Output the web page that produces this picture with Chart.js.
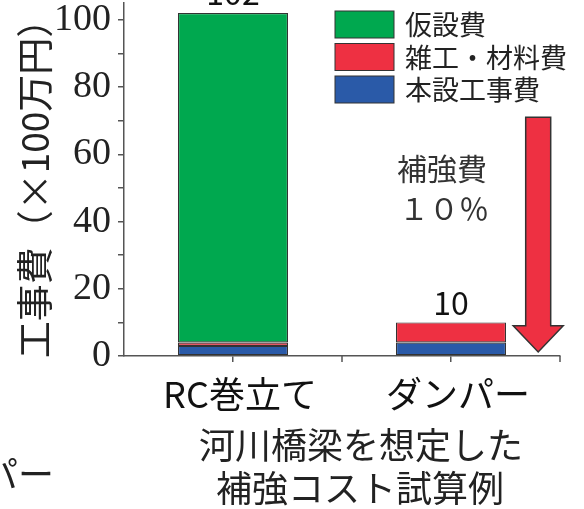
<!DOCTYPE html>
<html>
<head>
<meta charset="utf-8">
<script src="https://cdn.jsdelivr.net/npm/chart.js@4/dist/chart.umd.min.js"></script>
<style>
  body { margin: 0; background: #fff; }
  canvas { display: block; }
</style>
</head>
<body>
<canvas id="costChart" width="584" height="509"></canvas>
<script>
// Cost breakdown (unit: million yen x100)
const categories = ['RC巻立て', 'ダンパー'];
const honsetsu = [3, 4];     // 本設工事費
const zakko = [1, 6];        // 雑工・材料費
const kasetsu = [98, 0];     // 仮設費
const yTicks = [0, 20, 40, 60, 80, 100];

const jpFont = "'Noto Sans CJK JP', 'Noto Sans', sans-serif";

const colors = {
    green: '#00a84f',
    red: '#ee3042',
    blue: '#2a5aa8',
    edge: '#333333',
    axis: '#555555',
    text: '#222222'
};

// Extra drawing: half-category ticks, totals above bars, legend, arrow and notes
const decorations = {
    id: 'decorations',
    afterDatasetsDraw(chart) {
        const ctx = chart.ctx;
        const x = chart.scales.x;
        const y = chart.scales.y;
        const area = chart.chartArea;
        const half = (x.getPixelForValue(1) - x.getPixelForValue(0)) / 2;

        ctx.save();

        // ticks between / at the ends of categories
        ctx.strokeStyle = colors.axis;
        ctx.lineWidth = 1.5;
        categories.forEach((c, i) => {
            const px = x.getPixelForValue(i) + half;
            ctx.beginPath();
            ctx.moveTo(px, area.bottom);
            ctx.lineTo(px, area.bottom + 6);
            ctx.stroke();
        });

        // totals above each stack
        ctx.fillStyle = '#111';
        ctx.font = '32px ' + jpFont;
        ctx.textAlign = 'center';
        ctx.textBaseline = 'bottom';
        categories.forEach((c, i) => {
            const total = honsetsu[i] + zakko[i] + kasetsu[i];
            ctx.fillText(String(total), x.getPixelForValue(i), y.getPixelForValue(total) - 4);
        });

        // legend, top entry drawn first
        const items = chart.data.datasets.slice().reverse();
        ctx.font = '27px ' + jpFont;
        ctx.textAlign = 'left';
        ctx.textBaseline = 'middle';
        items.forEach((ds, k) => {
            const by = 11 + k * 32.5;
            ctx.fillStyle = ds.backgroundColor;
            ctx.fillRect(335, by, 59, 27);
            ctx.strokeStyle = colors.edge;
            ctx.lineWidth = 1;
            ctx.strokeRect(335, by, 59, 27);
            ctx.fillStyle = colors.text;
            ctx.fillText(ds.label, 405, by + 14);
        });

        // reduction arrow next to the damper bar
        const ax = x.getPixelForValue(1) + half * 0.8;
        const top = y.getPixelForValue(71);
        const neck = y.getPixelForValue(9);
        const tip = y.getPixelForValue(1.2);
        ctx.beginPath();
        ctx.moveTo(ax - 12.5, top);
        ctx.lineTo(ax + 12.5, top);
        ctx.lineTo(ax + 12.5, neck);
        ctx.lineTo(ax + 25, neck);
        ctx.lineTo(ax, tip);
        ctx.lineTo(ax - 25, neck);
        ctx.lineTo(ax - 12.5, neck);
        ctx.closePath();
        ctx.fillStyle = colors.red;
        ctx.fill();
        ctx.strokeStyle = colors.edge;
        ctx.lineWidth = 1.5;
        ctx.stroke();

        // note
        ctx.fillStyle = '#333';
        ctx.font = '30px ' + jpFont;
        ctx.textAlign = 'center';
        ctx.fillText('補強費', 442, 169);
        ctx.fillText('１０％', 444, 209);

        // caption under the axis
        ctx.fillStyle = colors.text;
        ctx.font = '36px ' + jpFont;
        ctx.fillText('河川橋梁を想定した', 361, 445);
        ctx.fillText('補強コスト試算例', 360, 488);

        // leftover label at the left edge
        ctx.textAlign = 'right';
        ctx.fillText('パー', 54, 474);

        ctx.restore();
    }
};

new Chart(document.getElementById('costChart'), {
    type: 'bar',
    data: {
        labels: categories,
        datasets: [
            { label: '本設工事費', data: honsetsu, backgroundColor: colors.blue },
            { label: '雑工・材料費', data: zakko, backgroundColor: colors.red },
            { label: '仮設費', data: kasetsu, backgroundColor: colors.green }
        ]
    },
    options: {
        responsive: false,
        animation: false,
        layout: {
            padding: { top: 3, right: 24, bottom: 0, left: 0 }
        },
        datasets: {
            bar: {
                barPercentage: 1,
                categoryPercentage: 0.505,
                borderColor: colors.edge,
                borderWidth: ctx => (ctx.raw ? 1.2 : 0),
                borderSkipped: false
            }
        },
        scales: {
            x: {
                stacked: true,
                grid: {
                    offset: false,
                    drawOnChartArea: false,
                    tickLength: 6,
                    color: colors.axis,
                    lineWidth: 1.5
                },
                border: { color: colors.axis, width: 1.5 },
                ticks: {
                    font: { family: jpFont, size: 36 },
                    color: '#111',
                    padding: 11,
                    labelOffset: 7,
                    maxRotation: 0
                },
                afterFit: s => {
                    s.height = 153;
                    s.paddingLeft = 0;
                    s.paddingRight = 0;
                }
            },
            y: {
                stacked: true,
                min: 0,
                max: 105,
                grid: {
                    drawOnChartArea: false,
                    tickLength: 6,
                    color: colors.axis,
                    lineWidth: 1.5
                },
                border: { color: colors.axis, width: 1.5 },
                ticks: {
                    stepSize: 10,
                    includeBounds: false,
                    autoSkip: false,
                    padding: 7,
                    font: { family: "'Liberation Serif', 'Times New Roman', serif", size: 38 },
                    color: colors.text,
                    callback: v => (yTicks.includes(v) ? v : '')
                },
                title: {
                    display: true,
                    text: '工事費（×100万円）',
                    font: { family: jpFont, size: 37 },
                    color: colors.text,
                    padding: { top: 13, bottom: 0 }
                },
                afterFit: s => {
                    s.width = 124;
                    s.paddingTop = 0;
                    s.paddingBottom = 0;
                }
            }
        },
        plugins: {
            legend: { display: false },
            tooltip: { enabled: false }
        }
    },
    plugins: [decorations]
});
</script>
</body>
</html>
